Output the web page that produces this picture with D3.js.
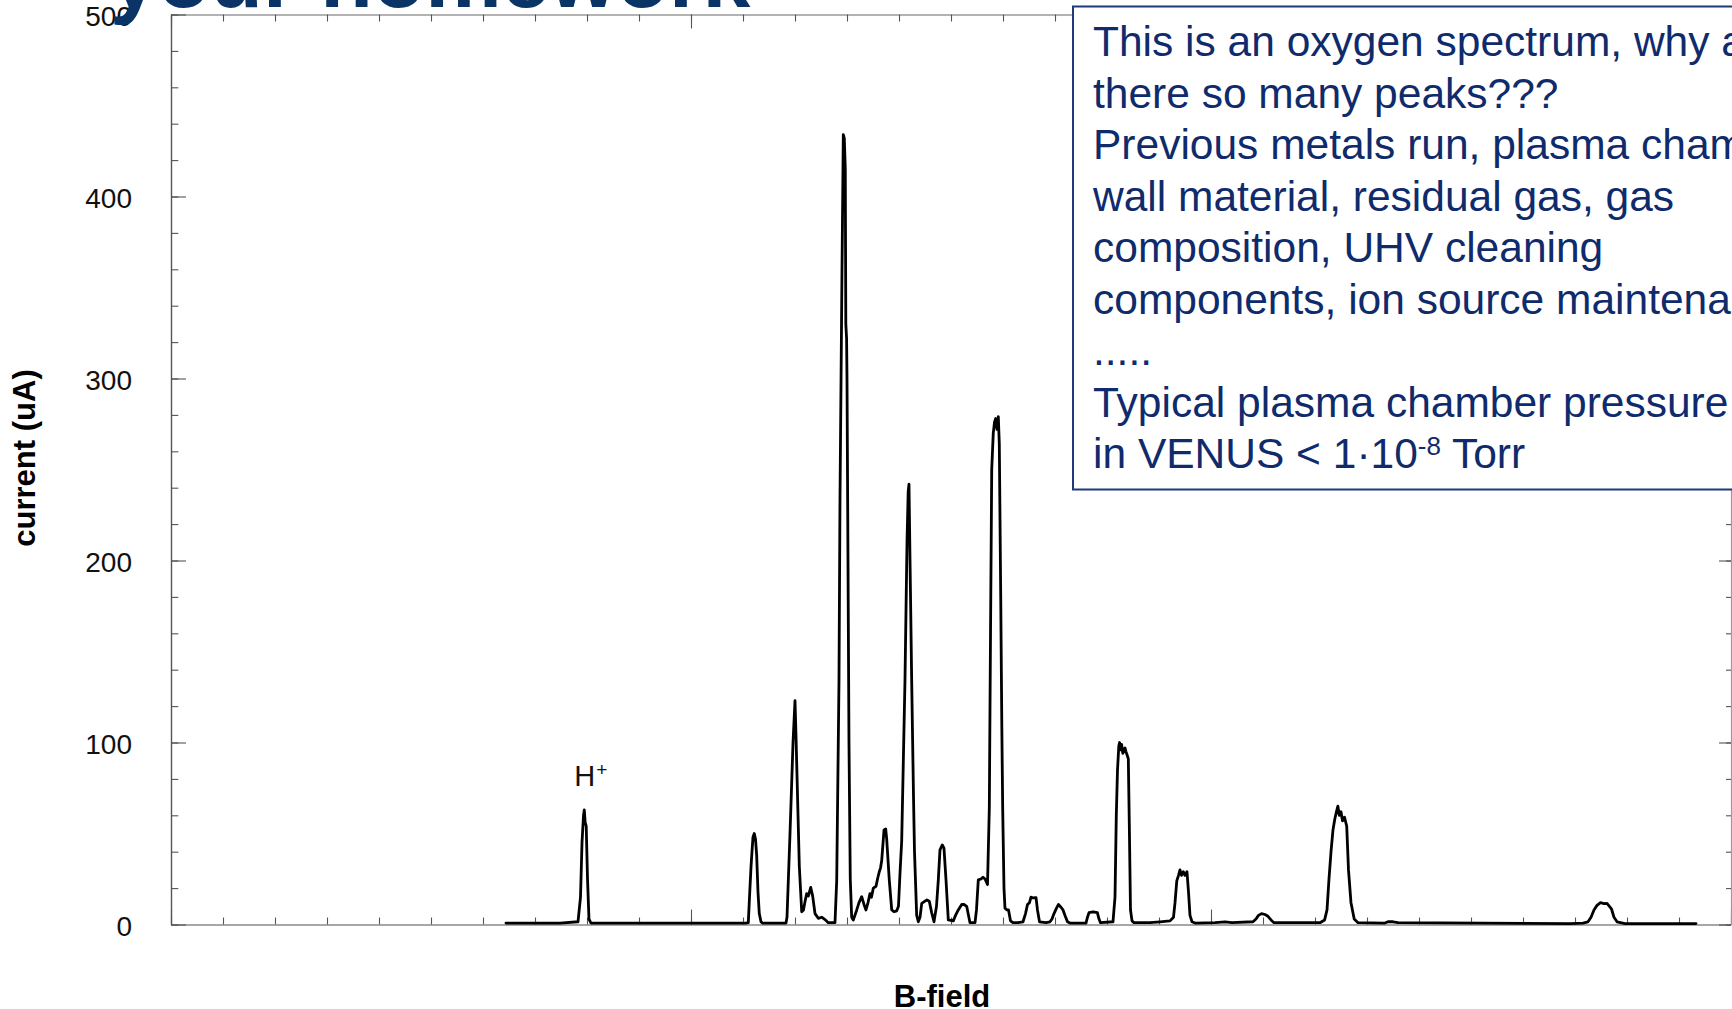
<!DOCTYPE html>
<html>
<head>
<meta charset="utf-8">
<script src="https://cdn.jsdelivr.net/npm/d3@7"></script>
<style>
  html, body { margin: 0; padding: 0; background: #fff; overflow: hidden; }
  svg { display: block; }
  .tick text { font-family: "Liberation Sans", Arial, sans-serif; }
</style>
</head>
<body>
<svg id="chart" width="1732" height="1009"></svg>
<script>
// Magnet scan of the VENUS ion source tuned for oxygen: beam current vs B-field.
const bField = [
  6.442, 7.481, 7.827, 7.875, 7.904, 7.933, 7.948, 7.965, 7.985, 8.010, 8.038, 8.077,
  10.173, 11.058, 11.102, 11.125, 11.154, 11.173, 11.192, 11.217, 11.240, 11.263, 11.288, 11.313, 11.346, 11.379,
  11.827, 11.846, 11.904, 11.962, 12.000, 12.019, 12.083, 12.129, 12.163, 12.192, 12.225, 12.256, 12.302, 12.340,
  12.385, 12.448, 12.513, 12.577, 12.640, 12.769, 12.802, 12.846, 12.865, 12.904, 12.929, 12.948, 12.967, 12.977,
  12.992, 13.000, 13.019, 13.038, 13.063, 13.090, 13.121, 13.187, 13.231, 13.283, 13.327, 13.365, 13.404, 13.442,
  13.471, 13.506, 13.558, 13.587, 13.621, 13.644, 13.667, 13.712, 13.744, 13.763, 13.813, 13.860, 13.904, 13.956,
  13.990, 14.019, 14.052, 14.115, 14.154, 14.177, 14.192, 14.212, 14.244, 14.279, 14.298, 14.340, 14.371, 14.404,
  14.437, 14.500, 14.538, 14.583, 14.629, 14.673, 14.721, 14.756, 14.788, 14.833, 14.865, 14.904, 14.948, 15.044,
  15.087, 15.140, 15.206, 15.250, 15.302, 15.337, 15.365, 15.462, 15.490, 15.525, 15.577, 15.615, 15.654, 15.702,
  15.737, 15.760, 15.783, 15.813, 15.837, 15.860, 15.885, 15.910, 15.929, 15.956, 15.977, 15.994, 16.019, 16.038,
  16.077, 16.106, 16.144, 16.192, 16.288, 16.385, 16.433, 16.471, 16.510, 16.538, 16.577, 16.635, 16.663, 16.702,
  16.827, 16.904, 16.942, 16.981, 17.029, 17.067, 17.115, 17.154, 17.192, 17.240, 17.288, 17.596, 17.625, 17.654,
  17.731, 17.815, 17.846, 17.875, 18.115, 18.154, 18.179, 18.202, 18.227, 18.242, 18.260, 18.281, 18.304, 18.323,
  18.346, 18.365, 18.388, 18.410, 18.429, 18.452, 18.481, 18.519, 18.827, 19.019, 19.212, 19.279, 19.308, 19.342,
  19.375, 19.404, 19.433, 19.469, 19.500, 19.538, 19.567, 19.596, 19.635, 19.692, 20.077, 20.269, 20.404, 20.808,
  20.865, 20.913, 20.971, 21.038, 21.096, 21.154, 21.212, 22.096, 22.185, 22.231, 22.269, 22.308, 22.346, 22.381,
  22.413, 22.440, 22.467, 22.500, 22.529, 22.567, 22.610, 22.644, 22.692, 22.754, 22.827, 23.346, 23.404, 23.500,
  23.596, 26.904, 27.154, 27.250, 27.308, 27.365, 27.423, 27.490, 27.558, 27.615, 27.663, 27.702, 27.750, 27.808,
  27.962, 29.327
];

const current = [
  0.8, 0.8, 1.5, 15, 45, 60, 63, 56, 54, 25, 3, 0.8,
  0.8, 0.8, 1, 15, 31.7, 40, 48, 50, 47, 38, 18, 6, 1.5, 0.8,
  0.8, 4, 50, 100, 123, 104, 32, 7, 8, 12.5, 17, 15.6, 20.4, 15.6,
  6, 3.4, 4, 2.7, 1, 1, 24, 134, 233, 360, 434, 432, 415, 330,
  322, 300, 200, 100, 25, 4, 2.5, 8, 12, 15.3, 11, 8, 12, 17,
  15, 20, 21, 25, 29, 31, 35, 52, 52.5, 47, 24.5, 8, 7, 7.5,
  10, 28, 46, 134, 210, 238, 242, 200, 134, 70, 40, 5, 1.5, 4,
  11.6, 12.8, 13.5, 12.8, 6.4, 1.5, 10, 24.5, 41, 43.7, 42, 24.5, 2.5, 2,
  5, 8, 11, 11, 10, 5, 1, 1, 8, 24.5, 25, 26, 25, 22,
  64, 160, 250, 270, 276, 278, 272, 279, 264, 181, 110, 64, 20, 9,
  8, 8, 2, 1, 1, 1.5, 6, 11, 12, 15, 14.6, 14.8, 8, 1.5,
  1, 1.5, 3, 6, 9, 11, 9.5, 8, 5, 1.5, 0.8, 0.8, 4, 6.5,
  7, 6.5, 3, 1, 1.5, 15, 60, 85, 98, 100, 96, 99, 94, 95,
  97, 95, 93, 91, 55, 8, 2, 1, 1, 1.5, 2, 4, 12, 24,
  27, 30, 27, 29, 27, 29, 18, 5, 1.5, 0.8, 1, 1.5, 1, 1.5,
  3, 5, 6, 5.5, 4.5, 2.5, 1, 1, 2.5, 8, 25, 40, 52, 58,
  62, 65, 60, 62, 57, 59, 54, 30, 12, 3, 1, 0.8, 1.5, 1.5,
  1, 0.5, 0.8, 1.5, 4, 8, 10.5, 12, 11.5, 11.6, 10, 8.5, 4, 1.5,
  0.5, 0.5
];

const bFieldMinorTicks = d3.range(0, 31, 1);
const bFieldMajorTicks = [0, 10, 20, 30];
const currentMinorTicks = d3.range(0, 501, 20);
const currentTickLabels = [0, 100, 200, 300, 400, 500];

const xLabel = "B-field";
const yLabel = "current (uA)";
const peakLabel = { ion: "H", charge: "+", atB: 7.948 };
const slideTitle = "your homework";
const noteLines = [
  "This is an oxygen spectrum, why are",
  "there so many peaks???",
  "Previous metals run, plasma chamber",
  "wall material, residual gas, gas",
  "composition, UHV cleaning",
  "components, ion source maintenance",
  ".....",
  "Typical plasma chamber pressure",
  "in VENUS < 1\u00B710^-8^ Torr"
];

const svg = d3.select("#chart");
const FONT = '"Liberation Sans", Arial, Helvetica, sans-serif';

const x = d3.scaleLinear().domain([0, 30]).range([171, 1731]);
const y = d3.scaleLinear().domain([0, 500]).range([924.5, 14.5]);

function styleAxis(g, domainColor, domainWidth) {
  g.select(".domain").attr("stroke", domainColor).attr("stroke-width", domainWidth);
  g.selectAll(".tick line").attr("stroke", "#555").attr("stroke-width", 1.1);
}

// frame: bottom and top (B-field) axes, ticks pointing into the plot
const axes = svg.append("g");
axes.append("g").attr("transform", `translate(0,${y(0)})`)
  .call(d3.axisBottom(x).tickValues(bFieldMinorTicks).tickSize(-7).tickSizeOuter(0).tickFormat(""))
  .call(g => styleAxis(g, "#8a8a8a", 1.6));
axes.append("g").attr("transform", `translate(0,${y(0)})`)
  .call(d3.axisBottom(x).tickValues(bFieldMajorTicks).tickSize(-15).tickSizeOuter(0).tickFormat(""))
  .call(g => g.select(".domain").remove())
  .call(g => styleAxis(g, "none", 0));
axes.append("g").attr("transform", `translate(0,${y(500)})`)
  .call(d3.axisTop(x).tickValues(bFieldMinorTicks).tickSize(-7).tickSizeOuter(0).tickFormat(""))
  .call(g => styleAxis(g, "#9a9a9a", 1.6));
axes.append("g").attr("transform", `translate(0,${y(500)})`)
  .call(d3.axisTop(x).tickValues(bFieldMajorTicks).tickSize(-14).tickSizeOuter(0).tickFormat(""))
  .call(g => g.select(".domain").remove())
  .call(g => styleAxis(g, "none", 0));

// left and right (current) axes
axes.append("g").attr("transform", `translate(${x(0)},0)`)
  .call(d3.axisLeft(y).tickValues(currentMinorTicks).tickSize(-7.3).tickSizeOuter(0).tickFormat(""))
  .call(g => styleAxis(g, "#555", 1.4));
axes.append("g").attr("transform", `translate(${x(0)},0)`)
  .call(d3.axisLeft(y).tickValues(currentTickLabels).tickSize(-15).tickSizeOuter(0).tickPadding(39).tickFormat(d3.format("d")))
  .call(g => g.select(".domain").remove())
  .call(g => styleAxis(g, "none", 0))
  .call(g => g.selectAll(".tick text")
    .attr("font-size", 28).attr("fill", "#111").attr("font-family", FONT).attr("dy", "0.38em"));
axes.append("g").attr("transform", `translate(${x(30)},0)`)
  .call(d3.axisRight(y).tickValues(currentMinorTicks).tickSize(-5).tickSizeOuter(0).tickFormat(""))
  .call(g => styleAxis(g, "#9a9a9a", 1.2));
axes.append("g").attr("transform", `translate(${x(30)},0)`)
  .call(d3.axisRight(y).tickValues(currentTickLabels).tickSize(-12).tickSizeOuter(0).tickFormat(""))
  .call(g => g.select(".domain").remove())
  .call(g => styleAxis(g, "none", 0));

// the spectrum trace
const points = bField.map((b, i) => [b, current[i]]);
svg.append("path")
  .datum(points)
  .attr("fill", "none")
  .attr("stroke", "#000")
  .attr("stroke-width", 2.8)
  .attr("stroke-linejoin", "round")
  .attr("stroke-linecap", "round")
  .attr("d", d3.line().x(d => x(d[0])).y(d => y(d[1])));

// H+ peak annotation, placed over its peak
const hIdx = bField.indexOf(peakLabel.atB);
const hx = x(bField[hIdx]) - 10;
const hy = y(current[hIdx]) - 24;
const hLabel = svg.append("text")
  .attr("x", hx).attr("y", hy)
  .attr("font-family", FONT).attr("font-size", 29).attr("fill", "#111");
hLabel.append("tspan").text(peakLabel.ion);
hLabel.append("tspan").attr("font-size", 19).attr("dy", -10).attr("dx", 1).text(peakLabel.charge);

// axis titles
svg.append("text")
  .attr("x", 942).attr("y", 1007)
  .attr("text-anchor", "middle")
  .attr("font-family", FONT).attr("font-weight", "bold").attr("font-size", 31).attr("fill", "#000")
  .text(xLabel);
svg.append("text")
  .attr("transform", "translate(34.5,458) rotate(-90)")
  .attr("text-anchor", "middle")
  .attr("font-family", FONT).attr("font-weight", "bold").attr("font-size", 31).attr("fill", "#000")
  .text(yLabel);

// note box in the upper right
const NAVY = "#0f2b6c";
svg.append("rect")
  .attr("x", 1073).attr("y", 6.5).attr("width", 700).attr("height", 483)
  .attr("fill", "#fff").attr("stroke", "#1c3a7c").attr("stroke-width", 2);
const note = svg.append("g")
  .attr("font-family", FONT).attr("font-size", 42.5).attr("fill", NAVY);
noteLines.forEach((line, i) => {
  const t = note.append("text").attr("x", 1093).attr("y", 56 + i * 51.5);
  const parts = line.split("^");
  parts.forEach((p, j) => {
    if (j % 2 === 1) {
      t.append("tspan").attr("font-size", 26).attr("dy", -13).text(p);
    } else {
      const s = t.append("tspan").text(p);
      if (j > 0) s.attr("dy", 13);
    }
  });
});

// slide heading running off the top edge
svg.append("text")
  .attr("x", 110).attr("y", 7)
  .attr("font-family", FONT).attr("font-weight", "bold").attr("font-size", 86).attr("fill", "#0b3466")
  .text(slideTitle);
</script>
</body>
</html>
